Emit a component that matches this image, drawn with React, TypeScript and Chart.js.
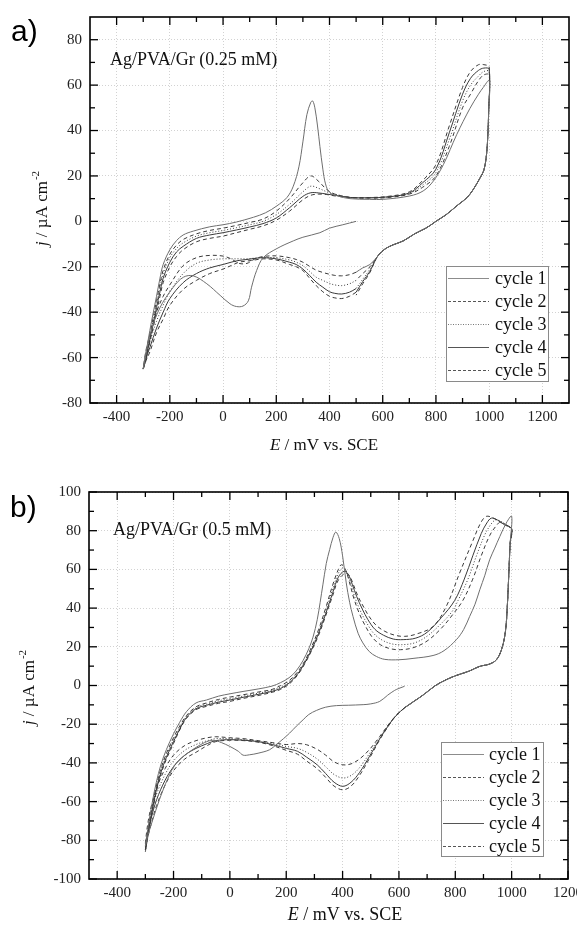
import React, { useEffect, useRef } from 'react';
import { Chart, registerables } from 'chart.js';

Chart.register(...registerables);

const SERIF = '"Liberation Serif", "Times New Roman", serif';
const SANS = '"Liberation Sans", Arial, sans-serif';

// ---------- ticks ----------
const X_TICKS = [-400, -200, 0, 200, 400, 600, 800, 1000, 1200];
const A_X_MINOR = [-300, -100, 100, 300, 500, 700, 900, 1100];
const B_X_MINOR = [-300, -100, 100, 300, 500, 700, 900, 1100];
const A_Y_TICKS = [-80, -60, -40, -20, 0, 20, 40, 60, 80];
const A_Y_MINOR = [-70, -50, -30, -10, 10, 30, 50, 70];
const B_Y_TICKS = [-100, -80, -60, -40, -20, 0, 20, 40, 60, 80, 100];
const B_Y_MINOR = [-90, -70, -50, -30, -10, 10, 30, 50, 70, 90];

const CYCLES = ['cycle 1', 'cycle 2', 'cycle 3', 'cycle 4', 'cycle 5'];

// ================= Panel a) Ag/PVA/Gr (0.25 mM) =================
// cycle 1, first cathodic sweep 500 -> -300 mV
const A_C1_CATH_E = [500, 450, 400, 364, 300, 264, 202, 151, 126, 107, 95, 75, 50, 26, -11, -61, -112, -149, -187, -237, -275, -300];
const A_C1_CATH_J = [0, -1.5, -3, -5, -7, -8.6, -12, -16, -21.7, -29, -35, -37.3, -37.5, -36.3, -32.6, -27.5, -24, -24.6, -29, -38, -50, -65];
// cycle 1, anodic sweep -300 -> 1000 mV
const A_C1_AN_E = [-300, -290, -275, -262, -250, -237, -225, -200, -175, -150, -112, -50, 0, 50, 114, 160, 202, 240, 264, 285, 300, 315, 330, 337, 345, 355, 364, 375, 385, 400, 430, 477, 550, 602, 702, 752, 790, 828, 878, 928, 960, 978, 1000];
const A_C1_AN_J = [-65, -58, -48, -40, -33, -25, -19, -12.5, -8.5, -6, -4.3, -2.4, -1.5, -0.3, 1.8, 3.8, 6.8, 10.5, 15.5, 24, 35, 47, 52.5, 53, 50, 42, 33, 23, 16.5, 12.8, 11.2, 10, 9.7, 9.7, 11.2, 13.4, 17.7, 25, 38.2, 49.8, 56, 59, 62];

// cycles 2-5, cathodic sweep 500 -> -300 mV
const A_CATH_E = [500, 475, 446, 420, 400, 375, 350, 325, 300, 275, 250, 200, 150, 120, 90, 60, 30, 0, -50, -100, -150, -200, -225, -250, -275, -290, -300];
const A_C2_CATH_J = [-22.4, -23.5, -24, -23.8, -23.3, -22.5, -21.5, -19.8, -18, -16.8, -16, -15.2, -15.5, -16.5, -18.5, -18.5, -16.5, -15.3, -15, -16, -19.5, -28, -33, -40, -50, -57, -65];
const A_C3_CATH_J = [-26, -27.5, -28.3, -28, -27.3, -26, -24.6, -22, -19.5, -18, -17, -16, -16, -16.2, -16.5, -16.5, -16.5, -16.5, -17, -18.5, -23, -31, -37, -44, -53, -59, -65];
const A_C4_CATH_J = [-29.6, -31.2, -32, -31.7, -31, -29, -26.8, -23.8, -21, -19, -18, -16.5, -16, -16.3, -16.8, -17.2, -18, -19, -20.5, -23, -27, -34, -40, -47, -55.5, -60.5, -65];
const A_C5_CATH_J = [-31.2, -33, -34, -33.7, -33, -31, -28.3, -25, -21.7, -20, -19, -17, -16.5, -17, -17.5, -18, -19.5, -21, -23, -26, -30, -37, -43, -49, -57.5, -61.5, -65];

// cycles 2-5, anodic sweep -300 -> 1000 mV
const A_AN_E = [-300, -290, -275, -262, -250, -237, -225, -200, -175, -150, -100, -50, 0, 50, 100, 150, 200, 250, 300, 330, 360, 390, 420, 480, 550, 620, 700, 750, 800, 850, 900, 930, 960, 980, 1000];
const A_C2_AN_J = [-65, -59, -50, -42, -35, -27.5, -21.5, -14.5, -10.5, -8, -5.5, -4, -3, -1.8, -0.5, 1, 4.5, 10, 17, 20, 17.5, 14, 12, 10.5, 10.2, 10.5, 12, 15, 20, 33, 50, 56, 62, 64.5, 64.5];
const A_C3_AN_J = [-65, -60, -51, -43.5, -36.5, -29, -23, -16, -12, -9.5, -6.5, -5, -4, -2.8, -1.5, 0, 3, 7.5, 13, 15.5, 14.5, 13, 12, 10.5, 10.3, 10.7, 12.3, 16, 21.5, 36, 53, 60, 64, 66, 66];
const A_C4_AN_J = [-65, -60.5, -52, -45, -38, -31, -25, -18, -13.5, -11, -7.5, -6, -5, -3.8, -2.5, -1, 1.5, 6, 11, 12.6, 12.5, 12, 11.5, 10.5, 10.4, 10.8, 12.5, 17, 23, 39, 56, 63, 66.5, 67.5, 67];
const A_C5_AN_J = [-65, -61, -53, -46.5, -40, -33, -27, -20, -15.5, -12.5, -9, -7.5, -6.5, -5, -3.5, -2, 0.5, 4.5, 9.5, 11.5, 12, 11.8, 11.2, 10.5, 10.5, 11, 13, 18, 25, 42, 59, 66, 69, 69, 68];

// return sweep 1000 -> 500 mV
const A_RET_E = [1000, 998, 995, 990, 980, 966, 940, 916, 880, 840, 800, 765, 720, 677, 640, 615, 595, 577, 552, 525, 500];
const A_C1_RET_J = [62, 48, 38, 29.4, 22.5, 19.2, 14, 10.4, 7, 3.1, 0, -2.8, -5.5, -8.6, -10.3, -11.7, -13.5, -16, -19, -20.5, -22.4];
const A_C2_RET_J = [64.5, 48, 38, 29.4, 22.5, 19.2, 14, 10.4, 7, 3.1, 0, -2.8, -5.5, -8.6, -10.3, -11.7, -13.5, -16, -20, -23, -26];
const A_C3_RET_J = [66, 48, 38, 29.4, 22.5, 19.2, 14, 10.4, 7, 3.1, 0, -2.8, -5.5, -8.6, -10.3, -11.7, -13.5, -16, -21, -25.5, -29.6];
const A_C4_RET_J = [67, 48, 38, 29.4, 22.5, 19.2, 14, 10.4, 7, 3.1, 0, -2.8, -5.5, -8.6, -10.3, -11.7, -13.5, -16, -22, -26.5, -31.2];
const A_C5_RET_J = [68, 48, 38, 29.4, 22.5, 19.2, 14, 10.4, 7, 3.1, 0, -2.8, -5.5, -8.6, -10.3, -11.7, -13.5, -16, -22.5, -27.5, -32.5];

// ================= Panel b) Ag/PVA/Gr (0.5 mM) =================
const B_C1_CATH_E = [620, 600, 585, 560, 532, 500, 473, 420, 378, 340, 307, 280, 260, 236, 212, 190, 165, 141, 100, 70, 47, 30, 0, -30, -60, -90, -120, -150, -190, -220, -250, -275, -290, -300];
const B_C1_CATH_J = [-0.4, -1.5, -2.5, -5, -8.2, -9.5, -9.9, -10.2, -10.4, -11.2, -12.9, -15, -17.7, -21, -24.6, -27.5, -30.5, -33.2, -35, -35.8, -36, -34, -31.5, -29.5, -28.3, -29.5, -32, -35, -40, -48, -59, -70, -77, -83];
const B_C1_AN_E = [-300, -290, -275, -261, -245, -225, -200, -178, -154, -120, -83, -40, 0, 50, 100, 150, 180, 210, 235, 260, 280, 295, 310, 330, 342, 354, 366, 376, 388, 400, 413, 425, 437, 455, 472, 495, 520, 550, 600, 650, 721, 760, 804, 830, 851, 870, 887, 905, 922, 940, 958, 981, 1000];
const B_C1_AN_J = [-83, -73, -60, -50, -41, -33, -25, -19, -13.5, -9, -7.5, -5.5, -4.3, -3, -1.8, -0.3, 1.5, 4, 7.5, 13, 19, 25, 34, 52, 63, 70.2, 76.5, 79.3, 76, 67, 53, 43, 35.7, 27, 22, 17.5, 15, 13.5, 13.3, 14, 15.5, 18, 23.7, 29, 35.7, 42, 49.5, 57, 65, 71, 77, 84, 87.5];

const B_CATH_E = [620, 590, 567, 532, 496, 460, 430, 401, 370, 340, 310, 272, 240, 200, 150, 100, 50, 0, -50, -80, -120, -160, -200, -230, -260, -280, -292, -300];
const B_C2_CATH_J = [-11.5, -15.5, -19.4, -26.3, -33, -38, -40.5, -41, -39.5, -36, -33, -30.6, -30, -30.5, -29.5, -28.5, -27.5, -27, -26.5, -27, -28.5, -31, -36, -43, -53, -63, -72, -82];
const B_C3_CATH_J = [-11.5, -15.5, -19.6, -27, -35, -42.5, -46.5, -47.8, -46, -42, -38, -34.5, -32.5, -31.5, -30, -28.8, -28, -27.5, -27.5, -28.5, -30.5, -33.5, -39, -46, -56, -66, -75, -84];
const B_C4_CATH_J = [-11.5, -15.5, -19.8, -27.5, -36.5, -45, -50, -52.1, -50, -45.5, -41, -37, -34, -32.5, -30.5, -29, -28.3, -28, -28.5, -30, -32.5, -36, -42, -49, -59, -69, -77, -85];
const B_C5_CATH_J = [-11.5, -15.5, -20, -28, -37.5, -46.5, -52, -53.9, -52, -47.5, -43, -39, -35.5, -33.5, -31, -29.3, -28.5, -28.3, -29, -31, -34.5, -38, -44, -51.5, -62, -72, -79, -86];

const B_C2_AN_E = [-300, -290, -275, -261, -245, -225, -200, -178, -154, -120, -83, -40, 0, 50, 100, 150, 180, 210, 240, 265, 290, 315, 340, 365, 385, 396, 410, 425, 440, 460, 480, 505, 535, 570, 605, 650, 700, 750, 790, 827, 862, 892, 922, 945, 960, 975, 990, 1000];
const B_C2_AN_J = [-82, -74, -62, -52, -43, -35, -27, -21, -15.5, -11, -9, -7.2, -6, -4.7, -3.4, -2, 0, 2.5, 7, 12.5, 20, 29, 40, 52, 60, 62.4, 60, 53, 45, 37, 31, 25, 21, 19, 18.5, 19.5, 23, 29.5, 36.5, 44, 55, 67, 77.5, 82.5, 84.5, 83.5, 82, 81];
const B_C3_AN_E = [-300, -290, -275, -261, -245, -225, -200, -178, -154, -120, -83, -40, 0, 50, 100, 150, 180, 210, 240, 265, 290, 315, 340, 365, 385, 400, 415, 430, 445, 465, 485, 510, 540, 575, 610, 655, 700, 750, 790, 810, 845, 875, 905, 925, 942, 960, 980, 1000];
const B_C3_AN_J = [-84, -75, -63, -53, -44, -36, -28, -22, -16, -11.5, -9.6, -7.9, -6.8, -5.4, -4, -2.5, -0.8, 1.8, 6.3, 12, 19, 28, 38.5, 50, 58, 60.7, 58.5, 52, 45, 38, 32.5, 27, 23.5, 21.5, 21.1, 22, 25.5, 32, 38.5, 44, 55, 67, 78, 83, 85.5, 85, 83, 81];
const B_C4_AN_E = [-300, -290, -275, -261, -245, -225, -200, -178, -154, -120, -83, -40, 0, 50, 100, 150, 180, 210, 240, 265, 290, 315, 340, 365, 385, 405, 420, 435, 450, 470, 490, 515, 545, 580, 615, 660, 700, 750, 798, 832, 862, 892, 912, 928, 950, 975, 1000];
const B_C4_AN_J = [-85, -76, -64, -54, -45, -37, -29, -22.5, -16.5, -12, -10.2, -8.6, -7.5, -6, -4.6, -3, -1.5, 1.2, 5.8, 11.5, 18.5, 27, 37, 48, 56, 59, 57.5, 52, 46, 39.5, 34, 29, 26, 24, 23.7, 24.5, 27.5, 35, 44, 55, 67, 78.5, 84, 86.5, 85.5, 83, 81];
const B_C5_AN_E = [-300, -290, -275, -261, -245, -225, -200, -178, -154, -120, -83, -40, 0, 50, 100, 150, 180, 210, 240, 265, 290, 315, 340, 365, 385, 410, 425, 440, 455, 475, 495, 520, 550, 585, 620, 660, 721, 768, 815, 863, 890, 910, 935, 965, 1000];
const B_C5_AN_J = [-86, -77, -65, -55, -46, -38, -30, -23, -17, -12.5, -10.8, -9.2, -8.2, -6.6, -5.2, -3.5, -2, 0.7, 5.3, 11, 18, 26, 36, 46.5, 54.5, 58, 56.5, 51.5, 46, 40.5, 35.5, 31, 28, 26, 25.4, 26.5, 30.5, 40.9, 58, 75, 84, 87.4, 86.5, 84, 81];

const B_RET_E = [1000, 995, 990, 985, 978, 965, 946, 920, 887, 850, 800, 768, 730, 685, 650, 620];
const B_C1_RET_J = [87.5, 74, 58, 42, 28, 19, 13.3, 11, 9.9, 7.5, 5, 3, 0, -5, -8.5, -11.5];
const B_C2_RET_J = [81, 74, 58, 42, 28, 19, 13.3, 11, 9.9, 7.5, 5, 3, 0, -5, -8.5, -11.5];
const B_C3_RET_J = [81, 74, 58, 42, 28, 19, 13.3, 11, 9.9, 7.5, 5, 3, 0, -5, -8.5, -11.5];
const B_C4_RET_J = [81, 74, 58, 42, 28, 19, 13.3, 11, 9.9, 7.5, 5, 3, 0, -5, -8.5, -11.5];
const B_C5_RET_J = [81, 74, 58, 42, 28, 19, 13.3, 11, 9.9, 7.5, 5, 3, 0, -5, -8.5, -11.5];

// ---------- styles ----------
const LINE_STYLES = [
  { color: '#6e6e6e', dash: [] as number[] },
  { color: '#3a3a3a', dash: [4, 3] },
  { color: '#3a3a3a', dash: [1, 2] },
  { color: '#3a3a3a', dash: [] as number[] },
  { color: '#3a3a3a', dash: [4, 3] },
];
const LEGEND_STYLES = [
  { color: '#8c8c8c', dash: [] as number[] },
  { color: '#555', dash: [3, 2] },
  { color: '#777', dash: [1, 1.5] },
  { color: '#555', dash: [] as number[] },
  { color: '#555', dash: [3, 2] },
];

type Pt = { x: number; y: number };
function join(...parts: [number[], number[]][]): Pt[] {
  const out: Pt[] = [];
  parts.forEach(([E, J], k) => {
    E.forEach((e, i) => {
      if (k > 0 && i === 0) return;
      out.push({ x: e, y: J[i] });
    });
  });
  return out;
}

const decorPlugin = {
  id: 'decor',
  afterDraw(chart: any, _args: any, o: any) {
    const { ctx, chartArea: ca, scales } = chart;
    const xs = scales.x;
    const ys = scales.y;
    ctx.save();
    ctx.setLineDash([]);
    ctx.strokeStyle = '#000';
    ctx.lineWidth = 1.3;
    const seg = (x1: number, y1: number, x2: number, y2: number) => {
      ctx.beginPath();
      ctx.moveTo(x1, y1);
      ctx.lineTo(x2, y2);
      ctx.stroke();
    };
    const xTick = (vals: number[], len: number) =>
      vals.forEach((v) => {
        const p = xs.getPixelForValue(v);
        seg(p, ca.bottom, p, ca.bottom - len);
        seg(p, ca.top, p, ca.top + len);
      });
    const yTick = (vals: number[], len: number) =>
      vals.forEach((v) => {
        const p = ys.getPixelForValue(v);
        seg(ca.left, p, ca.left + len, p);
        seg(ca.right, p, ca.right - len, p);
      });
    xTick(o.xMajor, 8);
    xTick(o.xMinor, 5);
    yTick(o.yMajor, 8);
    yTick(o.yMinor, 5);
    ctx.lineWidth = 1.6;
    ctx.strokeRect(ca.left, ca.top, ca.right - ca.left, ca.bottom - ca.top);

    // panel label
    ctx.fillStyle = '#000';
    ctx.textAlign = 'left';
    ctx.textBaseline = 'alphabetic';
    ctx.font = `${o.panelSize}px ${SANS}`;
    ctx.fillText(o.panel, o.panelX, o.panelY);

    // annotation
    ctx.fillStyle = '#111';
    ctx.font = `18px ${SERIF}`;
    ctx.fillText(o.note, o.noteX, o.noteY);

    // x title
    const fx = o.xTitleSize;
    ctx.font = `italic ${fx}px ${SERIF}`;
    const wE = ctx.measureText('E').width;
    ctx.font = `${fx}px ${SERIF}`;
    const rest = ' / mV vs. SCE';
    const wR = ctx.measureText(rest).width;
    const sx = o.xTitleCx - (wE + wR) / 2;
    ctx.font = `italic ${fx}px ${SERIF}`;
    ctx.fillText('E', sx, o.xTitleY);
    ctx.font = `${fx}px ${SERIF}`;
    ctx.fillText(rest, sx + wE, o.xTitleY);

    // y title
    const fy = o.yTitleSize;
    ctx.save();
    ctx.translate(o.yTitleX, o.yTitleCy);
    ctx.rotate(-Math.PI / 2);
    ctx.font = `italic ${fy}px ${SERIF}`;
    const wj = ctx.measureText('j').width;
    ctx.font = `${fy}px ${SERIF}`;
    const mid = ' / \u00B5A cm';
    const wm = ctx.measureText(mid).width;
    const supSize = Math.round(fy * 0.62);
    ctx.font = `${supSize}px ${SERIF}`;
    const sup = '-2';
    const ws = ctx.measureText(sup).width;
    let tx = -(wj + wm + ws) / 2;
    ctx.font = `italic ${fy}px ${SERIF}`;
    ctx.fillText('j', tx, 0);
    tx += wj;
    ctx.font = `${fy}px ${SERIF}`;
    ctx.fillText(mid, tx, 0);
    tx += wm;
    ctx.font = `${supSize}px ${SERIF}`;
    ctx.fillText(sup, tx + 1, -fy * 0.45);
    ctx.restore();

    // legend
    const L = o.legend;
    ctx.fillStyle = '#fff';
    ctx.fillRect(L.l, L.t, L.w, L.h);
    ctx.strokeStyle = '#8a8a8a';
    ctx.lineWidth = 1;
    ctx.strokeRect(L.l + 0.5, L.t + 0.5, L.w, L.h);
    ctx.font = `18px ${SERIF}`;
    ctx.textBaseline = 'middle';
    CYCLES.forEach((name, i) => {
      const cy = Math.round(L.t + 12 + i * 23) + 0.5;
      const st = LEGEND_STYLES[i];
      ctx.strokeStyle = st.color;
      ctx.lineWidth = 1;
      ctx.setLineDash(st.dash);
      seg(L.l + 2, cy, L.l + 43, cy);
      ctx.setLineDash([]);
      ctx.fillStyle = '#111';
      ctx.fillText(name, L.l + L.textDx, cy + 1);
    });
    ctx.restore();
  },
};

function makeConfig(p: any) {
  return {
    type: 'scatter',
    data: {
      datasets: p.series.map((d: Pt[], i: number) => ({
        label: CYCLES[i],
        data: d,
        showLine: true,
        borderColor: LINE_STYLES[i].color,
        borderWidth: 1,
        borderDash: LINE_STYLES[i].dash,
        pointRadius: 0,
        tension: 0.35,
        fill: false,
      })),
    },
    options: {
      animation: false,
      responsive: false,
      events: [],
      layout: { padding: p.padding },
      plugins: {
        legend: { display: false },
        tooltip: { enabled: false },
        decor: p.decor,
      },
      scales: {
        x: {
          type: 'linear',
          min: p.xMin,
          max: p.xMax,
          afterBuildTicks: (s: any) => {
            s.ticks = X_TICKS.map((v) => ({ value: v }));
          },
          afterFit: (s: any) => {
            s.height = p.xAxisH;
          },
          ticks: {
            autoSkip: false,
            maxRotation: 0,
            minRotation: 0,
            padding: 5,
            color: '#222',
            font: { family: SERIF, size: 15 },
            callback: (v: any) => String(v),
          },
          grid: { color: '#d2d2d2', lineWidth: 1, drawTicks: false },
          border: { display: false, dash: [1, 2] },
        },
        y: {
          type: 'linear',
          min: p.yMin,
          max: p.yMax,
          afterBuildTicks: (s: any) => {
            s.ticks = p.yTicks.map((v: number) => ({ value: v }));
          },
          afterFit: (s: any) => {
            s.width = p.yAxisW;
          },
          ticks: {
            autoSkip: false,
            padding: 8,
            color: '#222',
            font: { family: SERIF, size: 15 },
            callback: (v: any) => String(v),
          },
          grid: { color: '#d2d2d2', lineWidth: 1, drawTicks: false },
          border: { display: false, dash: [1, 2] },
        },
      },
    },
    plugins: [decorPlugin],
  };
}

function configA() {
  return makeConfig({
    series: [
      join([A_C1_CATH_E, A_C1_CATH_J], [A_C1_AN_E, A_C1_AN_J], [A_RET_E, A_C1_RET_J]),
      join([A_CATH_E, A_C2_CATH_J], [A_AN_E, A_C2_AN_J], [A_RET_E, A_C2_RET_J]),
      join([A_CATH_E, A_C3_CATH_J], [A_AN_E, A_C3_AN_J], [A_RET_E, A_C3_RET_J]),
      join([A_CATH_E, A_C4_CATH_J], [A_AN_E, A_C4_AN_J], [A_RET_E, A_C4_RET_J]),
      join([A_CATH_E, A_C5_CATH_J], [A_AN_E, A_C5_AN_J], [A_RET_E, A_C5_RET_J]),
    ],
    padding: { top: 15, right: 8, bottom: 0, left: 0 },
    xMin: -500,
    xMax: 1300,
    yMin: -80,
    yMax: 90,
    yTicks: A_Y_TICKS,
    xAxisH: 57,
    yAxisW: 90,
    decor: {
      xMajor: X_TICKS,
      xMinor: A_X_MINOR,
      yMajor: A_Y_TICKS,
      yMinor: A_Y_MINOR,
      panel: 'a)',
      panelSize: 30,
      panelX: 11,
      panelY: 41,
      note: 'Ag/PVA/Gr (0.25 mM)',
      noteX: 110,
      noteY: 65,
      xTitleCx: 324,
      xTitleY: 450,
      xTitleSize: 17,
      yTitleX: 47,
      yTitleCy: 209,
      yTitleSize: 17,
      legend: { l: 446, t: 266, w: 102, h: 115, textDx: 49 },
    },
  });
}

function configB() {
  return makeConfig({
    series: [
      join([B_C1_CATH_E, B_C1_CATH_J], [B_C1_AN_E, B_C1_AN_J], [B_RET_E, B_C1_RET_J]),
      join([B_CATH_E, B_C2_CATH_J], [B_C2_AN_E, B_C2_AN_J], [B_RET_E, B_C2_RET_J]),
      join([B_CATH_E, B_C3_CATH_J], [B_C3_AN_E, B_C3_AN_J], [B_RET_E, B_C3_RET_J]),
      join([B_CATH_E, B_C4_CATH_J], [B_C4_AN_E, B_C4_AN_J], [B_RET_E, B_C4_RET_J]),
      join([B_CATH_E, B_C5_CATH_J], [B_C5_AN_E, B_C5_AN_J], [B_RET_E, B_C5_RET_J]),
    ],
    padding: { top: 32, right: 32, bottom: 0, left: 0 },
    xMin: -500,
    xMax: 1200,
    yMin: -100,
    yMax: 100,
    yTicks: B_Y_TICKS,
    xAxisH: 52,
    yAxisW: 89,
    decor: {
      xMajor: X_TICKS,
      xMinor: B_X_MINOR,
      yMajor: B_Y_TICKS,
      yMinor: B_Y_MINOR,
      panel: 'b)',
      panelSize: 30,
      panelX: 10,
      panelY: 57,
      note: 'Ag/PVA/Gr (0.5 mM)',
      noteX: 113,
      noteY: 75,
      xTitleCx: 345,
      xTitleY: 460,
      xTitleSize: 18,
      yTitleX: 34,
      yTitleCy: 228,
      yTitleSize: 17,
      legend: { l: 441, t: 282, w: 102, h: 114, textDx: 48 },
    },
  });
}

function Panel({ make, width, height }: { make: () => any; width: number; height: number }) {
  const ref = useRef<HTMLCanvasElement>(null);
  useEffect(() => {
    const chart = new Chart(ref.current as HTMLCanvasElement, make());
    return () => chart.destroy();
  }, []);
  return <canvas ref={ref} width={width} height={height} style={{ display: 'block', width, height }} />;
}

export default function App() {
  return (
    <div
      style={{
        position: 'absolute',
        left: 0,
        top: 0,
        width: 577,
        height: 931,
        overflow: 'hidden',
        background: '#fff',
      }}
    >
      <Panel make={configA} width={577} height={460} />
      <Panel make={configB} width={600} height={471} />
    </div>
  );
}
